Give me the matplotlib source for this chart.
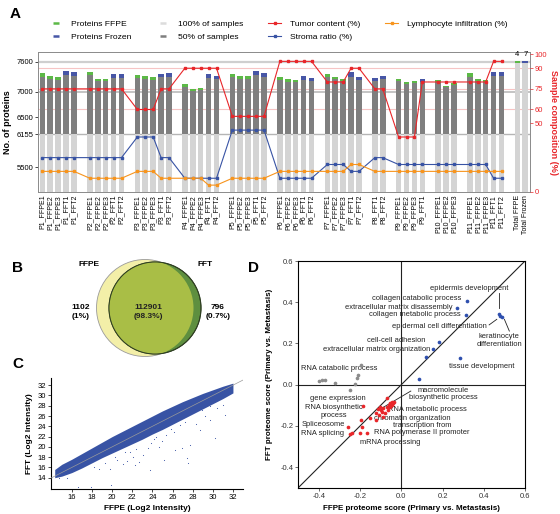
import numpy as np
import matplotlib
matplotlib.use("Agg")
import matplotlib.pyplot as plt
import matplotlib.transforms as mtransforms
from matplotlib.lines import Line2D
from matplotlib.patches import Circle
from matplotlib.ticker import FormatStrFormatter

plt.rcParams['font.family'] = ['Liberation Sans', 'DejaVu Sans']
plt.rcParams['axes.unicode_minus'] = False

# ---------------- panel A data ----------------
samples = ["P1_FFPE1", "P1_FFPE2", "P1_FFPE3", "P1_FFT1", "P1_FFT2",
           "P2_FFPE1", "P2_FFPE2", "P2_FFPE3", "P2_FFT1", "P2_FFT2",
           "P3_FFPE1", "P3_FFPE2", "P3_FFPE3", "P3_FFT1", "P3_FFT2",
           "P4_FFPE1", "P4_FFPE2", "P4_FFPE3", "P4_FFT1", "P4_FFT2",
           "P5_FFPE1", "P5_FFPE2", "P5_FFPE3", "P5_FFT1", "P5_FFT2",
           "P6_FFPE1", "P6_FFPE2", "P6_FFPE3", "P6_FFT1", "P6_FFT2",
           "P7_FFPE1", "P7_FFPE2", "P7_FFPE3", "P7_FFT1", "P7_FFT2",
           "P8_FFT1", "P8_FFT2",
           "P9_FFPE1", "P9_FFPE2", "P9_FFPE3", "P9_FFT1",
           "P10_FFPE1", "P10_FFPE2", "P10_FFPE3",
           "P11_FFPE1", "P11_FFPE2", "P11_FFPE3", "P11_FFT1", "P11_FFT2"]
totals = ["Total FFPE", "Total Frozen"]

# proteins found in 100% of samples (light grey part)
core_proteins = 6155
# top of the dark grey part (50% of samples)
half_proteins = [7307, 7267, 7240, 7333, 7313,
                 7333, 7227, 7220, 7287, 7287,
                 7287, 7253, 7247, 7293, 7293,
                 7107, 7020, 7033, 7287, 7253,
                 7307, 7260, 7260, 7340, 7307,
                 7247, 7207, 7200, 7247, 7227,
                 7293, 7253, 7213, 7307, 7240,
                 7213, 7267,
                 7227, 7167, 7173, 7193,
                 7207, 7093, 7147,
                 7307, 7220, 7193, 7327, 7327]
# total proteins per sample
total_proteins = [7373, 7320, 7293, 7420, 7393,
                  7393, 7267, 7260, 7353, 7360,
                  7340, 7320, 7293, 7367, 7373,
                  7167, 7060, 7080, 7353, 7313,
                  7367, 7313, 7320, 7420, 7380,
                  7300, 7260, 7240, 7327, 7287,
                  7353, 7307, 7253, 7393, 7307,
                  7273, 7327,
                  7267, 7207, 7220, 7253,
                  7240, 7127, 7187,
                  7373, 7260, 7240, 7400, 7400]
totals_grey = [7590, 7590]
totals_top = [7612, 7612]
totals_text = ["4", "7"]

tumor = [75, 75, 75, 75, 75,
         75, 75, 75, 75, 75,
         60, 60, 60, 75, 75,
         90, 90, 90, 90, 90,
         55, 55, 55, 55, 55,
         95, 95, 95, 95, 95,
         80, 80, 80, 90, 90,
         75, 75,
         40, 40, 40, 80,
         80, 80, 80,
         80, 80, 80, 95, 95]
stroma = [25, 25, 25, 25, 25,
          25, 25, 25, 25, 25,
          40, 40, 40, 25, 25,
          10, 10, 10, 10, 10,
          45, 45, 45, 45, 45,
          10, 10, 10, 10, 10,
          20, 20, 20, 15, 15,
          25, 25,
          20, 20, 20, 20,
          20, 20, 20,
          20, 20, 20, 10, 10]
lympho = [15, 15, 15, 15, 15,
          10, 10, 10, 10, 10,
          15, 15, 15, 10, 10,
          10, 10, 10, 5, 5,
          10, 10, 10, 10, 10,
          15, 15, 15, 15, 15,
          15, 15, 15, 20, 20,
          15, 15,
          15, 15, 15, 15,
          15, 15, 15,
          15, 15, 15, 15, 15]
comp_guides = [90, 75, 60]

# ---------------- panel B data ----------------
venn_only_ffpe = "1102\n(1%)"
venn_both = "112901\n(98.3%)"
venn_only_fft = "796\n(0.7%)"

# ---------------- panel C data ----------------
band_x = [14.3, 15.0, 16.0, 17.0, 18.0, 19.0, 20.0, 21.0, 22.0, 23.0, 24.0, 25.0, 26.0, 27.0, 28.0, 29.0, 30.0, 31.0, 32.0]
band_hi = [15.6, 16.6, 17.6, 18.7, 19.8, 20.9, 22.0, 23.0, 24.0, 25.0, 26.0, 27.0, 27.9, 28.8, 29.6, 30.4, 31.1, 31.8, 32.4]
band_lo = [14.0, 14.3, 15.0, 15.9, 16.9, 17.9, 18.8, 19.7, 20.6, 21.5, 22.5, 23.4, 24.4, 25.4, 26.4, 27.4, 28.4, 29.4, 30.5]
out_x = [16.65, 17.9, 19.9, 18.7, 19.8, 21.1, 21.5, 22.1, 22.7, 23.1, 23.6, 24.2, 24.7, 25.4, 26.1,
         26.7, 27.2, 27.4, 26.9, 27.1, 15.5, 14.7, 20.5, 21.8, 23.9, 25.0, 28.3, 29.2, 30.4, 31.0,
         18.2, 19.3, 20.3, 22.4, 24.4, 25.8, 28.9, 29.7,
         21.3, 22.3, 23.8, 25.2, 26.2, 27.5, 27.7, 28.7, 29.7, 30.2, 31.2]
out_y = [12.25, 12.1, 12.6, 15.6, 15.6, 16.7, 17.2, 18.1, 17.0, 18.4, 19.7, 21.5, 20.0, 22.3, 22.9,
         24.2, 24.9, 17.8, 19.7, 26.8, 13.9, 14.0, 17.5, 19.0, 20.8, 21.2, 24.5, 26.0, 27.5, 28.2,
         16.0, 16.9, 18.0, 19.6, 22.0, 23.5, 27.2, 28.0,
         19.0, 16.5, 15.5, 17.4, 19.4, 16.9, 20.3, 23.3, 25.2, 21.7, 26.2]

# ---------------- panel D data ----------------
blue_x = [0.473, 0.480, 0.490, 0.317, 0.268, 0.316, 0.181, 0.154, 0.120, 0.283, 0.088]
blue_y = [0.342, 0.335, 0.330, 0.405, 0.372, 0.337, 0.206, 0.172, 0.134, 0.130, 0.029]
grey_x = [-0.399, -0.385, -0.369, -0.322, -0.248, -0.227, -0.214, -0.211, -0.194]
grey_y = [0.019, 0.023, 0.024, 0.010, -0.026, 0.003, 0.032, 0.046, 0.096]
red_x = [-0.258, -0.250, -0.238, -0.186, -0.194, -0.191, -0.199, -0.167, -0.152, -0.121, -0.113,
         -0.104, -0.096, -0.088, -0.080, -0.072, -0.064, -0.055, -0.047, -0.039, -0.036, -0.072,
         -0.055, -0.125, -0.088, -0.110, -0.100, -0.060, -0.045]
red_y = [-0.204, -0.239, -0.233, -0.103, -0.171, -0.204, -0.233, -0.236, -0.163, -0.136, -0.120,
         -0.110, -0.131, -0.115, -0.139, -0.110, -0.123, -0.090, -0.083, -0.090, -0.083, -0.066,
         -0.110, -0.171, -0.155, -0.145, -0.125, -0.100, -0.098]

GREEN = '#5cb947'
NAVY = '#4756a6'
LGREY = '#d4d4d4'
DGREY = '#7f7f7f'
RED = '#e8262a'
BLUE = '#3853a4'
ORANGE = '#f7941d'

W, H = 560, 514
fig = plt.figure(figsize=(W / 100, H / 100), dpi=100)


def box(l, t, r, b):
    return [l / W, 1 - b / H, (r - l) / W, (b - t) / H]


# ================= panel A =================
slots = []
s = 0
prev = None
for name in samples:
    g = name.split('_')[0]
    if prev is not None and g != prev:
        s += 1
    slots.append(s)
    s += 1
    prev = g
tot_slots = [s + 1, s + 2]

axA = fig.add_axes(box(38, 52, 530, 192))
ymin = 5000
half = np.array(half_proteins)
top = np.array(total_proteins)
caps = [GREEN if 'FFPE' in n else NAVY for n in samples]
bw = 0.7
axA.bar(slots, core_proteins - ymin, bottom=ymin, width=bw, color=LGREY, zorder=2)
axA.bar(slots, half - core_proteins, bottom=core_proteins, width=bw, color=DGREY, zorder=2)
axA.bar(slots, top - half, bottom=half, width=bw, color=caps, zorder=2)
axA.bar(tot_slots, np.array(totals_grey) - ymin, bottom=ymin, width=bw, color=LGREY, zorder=2)
axA.bar(tot_slots, np.array(totals_top) - np.array(totals_grey), bottom=totals_grey,
        width=bw, color=[GREEN, NAVY], zorder=2)
for xs, t in zip(tot_slots, totals_text):
    axA.text(xs, 7690, t, ha='center', va='bottom', fontsize=5.5)

axA.axhline(7600, color='#cfcfcf', lw=1.6, zorder=1)
axA.axhline(7000, color='#c4c4c4', lw=1.4, zorder=1)
axA.axhline(core_proteins, color='#b5b5b5', lw=1.0, zorder=1)
axA.set_ylim(5000, 7800)
axA.set_xlim(-0.55, tot_slots[-1] + 0.6)
axA.set_yticks([5500, core_proteins, 6500, 7000, 7600])
axA.set_xticks(slots + tot_slots)
axA.set_xticklabels(samples + totals, rotation=90, fontsize=5)
axA.tick_params(axis='y', labelsize=5.5, length=2, width=0.5, pad=1.5)
axA.tick_params(axis='x', length=0, pad=2)
axA.set_ylabel('No. of proteins', fontsize=6.5, fontweight='bold', labelpad=3)
for sp in axA.spines.values():
    sp.set_color('#8a8a8a')
    sp.set_linewidth(0.7)

axR = axA.twinx()
axR.set_ylim(0, 101.8)
axR.set_yticks([0, 50, 60, 75, 90, 100])
axR.tick_params(axis='y', labelsize=5.5, colors=RED, length=2, width=0.5, pad=1.5)
axR.set_ylabel('Sample composition (%)', color=RED, fontsize=6.5, fontweight='bold',
               rotation=270, labelpad=8)
for sp in axR.spines.values():
    sp.set_visible(False)
trans = mtransforms.blended_transform_factory(axA.transAxes, axR.transData)
for v in comp_guides:
    axA.plot([0, 1], [v, v], transform=trans, color='#f6c4c4', lw=0.8, zorder=1)

ms = 2.0
axR.plot(slots, tumor, color=RED, marker='s', ms=ms, lw=0.8)
axR.plot(slots, stroma, color=BLUE, marker='s', ms=ms, lw=0.8)
axR.plot(slots, lympho, color=ORANGE, marker='s', ms=ms, lw=0.8)

handles = [Line2D([], [], color=GREEN, marker='_', ls='none', ms=5, mew=1.8),
           Line2D([], [], color=NAVY, marker='_', ls='none', ms=5, mew=1.8),
           Line2D([], [], color='#dcdcdc', marker='_', ls='none', ms=5, mew=1.8),
           Line2D([], [], color=DGREY, marker='_', ls='none', ms=5, mew=1.8),
           Line2D([], [], color=RED, marker='s', ms=1.8, lw=0.8),
           Line2D([], [], color=BLUE, marker='s', ms=1.8, lw=0.8),
           Line2D([], [], color=ORANGE, marker='s', ms=1.8, lw=0.8)]
labels = ['Proteins FFPE', 'Proteins Frozen', '100% of samples', '50% of samples',
          'Tumor content (%)', 'Stroma ratio (%)', 'Lymphocyte infiltration (%)']
fig.legend(handles, labels, ncol=4, loc='upper left', bbox_to_anchor=(49 / W, 1 - 20 / H),
           frameon=False, fontsize=6.1, handlelength=1.6, handletextpad=1.0,
           columnspacing=2.9, labelspacing=0.65, borderpad=0, borderaxespad=0)

# ================= panel B =================
axB = fig.add_axes(box(60, 245, 240, 375))
axB.set_xlim(60, 240)
axB.set_ylim(375, 245)
axB.axis('off')
c_ffpe = Circle((145, 308), 48.5, fc='#f3efa8', ec='#9a9a9a', lw=0.6, zorder=1)
c_fft = Circle((155, 308), 46, fc='#5e8f3f', ec='#2f3f22', lw=0.7, zorder=2)
axB.add_patch(c_ffpe)
axB.add_patch(c_fft)
inter = Circle((145, 308), 48.5, fc='#a9be46', ec='none', zorder=3)
axB.add_patch(inter)
inter.set_clip_path(c_fft)
axB.add_patch(Circle((155, 308), 46, fc='none', ec='#2f3f22', lw=0.7, zorder=4))
axB.text(89, 264, 'FFPE', ha='center', va='center', fontsize=6, fontweight='bold')
axB.text(205, 264, 'FFT', ha='center', va='center', fontsize=6, fontweight='bold')
axB.text(81, 312, venn_only_ffpe, ha='center', va='center', fontsize=6, fontweight='bold',
         linespacing=1.3)
axB.text(148, 312, venn_both, ha='center', va='center', fontsize=6, fontweight='bold',
         linespacing=1.3, color='#222222')
axB.text(218, 312, venn_only_fft, ha='center', va='center', fontsize=6, fontweight='bold',
         linespacing=1.3)

# ================= panel C =================
axC = fig.add_axes(box(50.7, 378, 243, 489))
axC.fill_between(band_x, band_lo, band_hi, color=BLUE, lw=0, zorder=2)
axC.scatter(out_x, out_y, s=0.6, color=BLUE, lw=0, zorder=2)
axC.plot([13.9, 33.0], [13.9, 33.0], color='#9a9a9a', lw=0.5, zorder=3)
axC.set_xlim(13.9, 33.0)
axC.set_ylim(11.8, 33.4)
axC.set_xticks(range(16, 33, 2))
axC.set_yticks(range(14, 33, 2))
axC.spines['top'].set_visible(False)
axC.spines['right'].set_visible(False)
axC.tick_params(labelsize=5.5, length=2, width=0.5, pad=1.5)
axC.set_xlabel('FFPE (Log2 Intensity)', fontsize=6, fontweight='bold', labelpad=3)
axC.set_ylabel('FFT (Log2 Intensity)', fontsize=6, fontweight='bold', labelpad=3)

# ================= panel D =================
axD = fig.add_axes(box(298.3, 261, 525, 487.7))
axD.set_xlim(-0.5, 0.6)
axD.set_ylim(-0.5, 0.6)
axD.axhline(0, color='#222222', lw=0.8, zorder=1)
axD.axvline(0, color='#222222', lw=0.8, zorder=1)
axD.plot([-0.5, 0.6], [-0.5, 0.6], color='#222222', lw=0.8, zorder=1)
axD.scatter(grey_x, grey_y, s=7, color='#8c8c8c', lw=0, zorder=3)
axD.scatter(red_x, red_y, s=7, color=RED, lw=0, zorder=3)
axD.scatter(blue_x, blue_y, s=7, color='#2e4fae', lw=0, zorder=3)
axD.set_xticks([-0.4, -0.2, 0.0, 0.2, 0.4, 0.6])
axD.set_yticks([-0.4, -0.2, 0.0, 0.2, 0.4, 0.6])
axD.xaxis.set_major_formatter(FormatStrFormatter('%.1f'))
axD.yaxis.set_major_formatter(FormatStrFormatter('%.1f'))
axD.tick_params(labelsize=5.5, length=2, width=0.5, pad=1.5, colors='#333333')
for sp in axD.spines.values():
    sp.set_linewidth(0.8)
axD.set_xlabel('FFPE proteome score (Primary vs. Metastasis)', fontsize=5.8, fontweight='bold',
               labelpad=4)
axD.set_ylabel('FFT proteome score (Primary vs. Metastasis)', fontsize=5.8, fontweight='bold',
               labelpad=5)

d_labels = [
    ('epidermis development', 0.328, 0.468, 'center'),
    ('collagen catabolic process', 0.291, 0.416, 'right'),
    ('extracellular matrix disassembly', 0.250, 0.374, 'right'),
    ('collagen metabolic process', 0.288, 0.338, 'right'),
    ('epidermal cell differentiation', 0.415, 0.283, 'right'),
    ('keratinocyte\ndifferentiation', 0.475, 0.214, 'center'),
    ('cell-cell adhesion', 0.116, 0.212, 'right'),
    ('extracellular matrix organization', 0.141, 0.170, 'right'),
    ('tissue development', 0.390, 0.087, 'center'),
    ('RNA catabolic process', -0.485, 0.076, 'left'),
    ('macromolecule\nbiosynthetic process', 0.204, -0.045, 'center'),
    ('gene expression', -0.310, -0.068, 'center'),
    ('RNA biosynthetic\nprocess', -0.330, -0.131, 'center'),
    ('RNA metabolic process', -0.065, -0.121, 'left'),
    ('chromatin organization', -0.134, -0.163, 'left'),
    ('transcription from\nRNA polymerase II promoter', 0.101, -0.215, 'center'),
    ('Spliceosome', -0.482, -0.191, 'left'),
    ('RNA splicing', -0.487, -0.239, 'left'),
    ('mRNA processing', -0.202, -0.280, 'left'),
]
for txt, x, y, ha in d_labels:
    axD.text(x, y, txt, ha=ha, va='center', fontsize=5.4, color='#222222', zorder=2,
             linespacing=1.15)
d_leaders = [((0.475, 0.444), (0.475, 0.371)),
             ((0.426, 0.290), (0.463, 0.317)),
             ((0.500, 0.317), (0.524, 0.260)),
             ((0.046, -0.031), (-0.091, -0.112))]
for (x0, y0), (x1, y1) in d_leaders:
    axD.plot([x0, x1], [y0, y1], color='#222222', lw=0.6, zorder=2)

# panel letters
for letter, x, y in [('A', 10, 14), ('B', 12, 268), ('C', 12, 364), ('D', 248, 268)]:
    fig.text(x / W, 1 - y / H, letter, fontsize=11, fontweight='bold', va='center')

fig.savefig('out.png', dpi=100)
